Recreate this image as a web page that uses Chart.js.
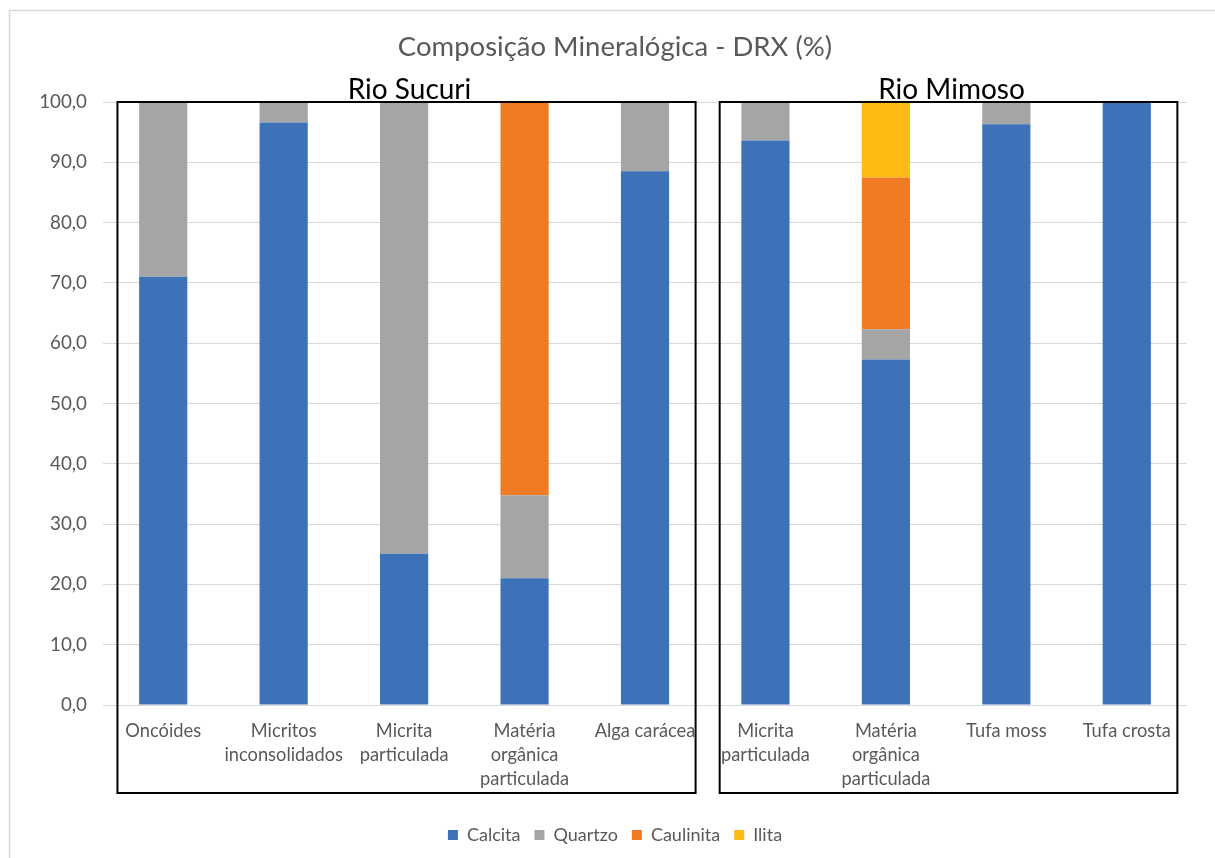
<!DOCTYPE html>
<html>
<head>
<meta charset="utf-8">
<title>Composição Mineralógica - DRX (%)</title>
<script src="https://cdn.jsdelivr.net/npm/chart.js@4.4.1/dist/chart.umd.min.js"></script>
<style>
  html, body { margin: 0; padding: 0; background: #ffffff; }
  #wrap { width: 1215px; height: 858px; position: relative; }
</style>
</head>
<body>
<div id="wrap"><canvas id="chart" width="1215" height="858"></canvas></div>
<script>
// Amostras (categorias do eixo X), em linhas para quebra do rótulo
const categories = [
  ['Oncóides'],
  ['Micritos', 'inconsolidados'],
  ['Micrita', 'particulada'],
  ['Matéria', 'orgânica', 'particulada'],
  ['Alga carácea'],
  ['Micrita', 'particulada'],
  ['Matéria', 'orgânica', 'particulada'],
  ['Tufa moss'],
  ['Tufa crosta']
];

// Composição mineralógica (%) por amostra
const calcita   = [71.0, 96.6, 25.1, 21.0, 88.5, 93.6, 57.3, 96.3, 100.0];
const quartzo   = [29.0,  3.4, 74.9, 13.8, 11.5,  6.4,  5.0,  3.7,   0.0];
const caulinita = [ 0.0,  0.0,  0.0, 65.2,  0.0,  0.0, 25.2,  0.0,   0.0];
const ilita     = [ 0.0,  0.0,  0.0,  0.0,  0.0,  0.0, 12.5,  0.0,   0.0];

// Agrupamento das amostras por rio (índices das categorias)
const groupNames = ['Rio Sucuri', 'Rio Mimoso'];
const groupFirst = [0, 5];
const groupLast  = [4, 8];

// Eixo Y
const yTicks = [0, 10, 20, 30, 40, 50, 60, 70, 80, 90, 100];

const FONT = 'Lato, "Open Sans", sans-serif';
const TEXT_GRAY = '#595959';

const fmt = v => v.toFixed(1).replace('.', ',');

// Moldura externa da área do gráfico
const framePlugin = {
  id: 'frame',
  beforeDraw(chart) {
    const ctx = chart.ctx;
    ctx.save();
    ctx.fillStyle = '#ffffff';
    ctx.fillRect(0, 0, chart.width, chart.height);
    ctx.strokeStyle = '#d9d9d9';
    ctx.lineWidth = 1.5;
    ctx.strokeRect(9.5, 10.5, chart.width + 20, chart.height + 20);
    ctx.restore();
  }
};

// Caixas e títulos dos grupos (rios)
const groupPlugin = {
  id: 'groups',
  afterDraw(chart) {
    const ctx = chart.ctx;
    const x = chart.scales.x;
    const area = chart.chartArea;
    const step = x.getPixelForValue(1) - x.getPixelForValue(0);
    ctx.save();
    for (let g = 0; g < groupNames.length; g++) {
      const left = x.getPixelForValue(groupFirst[g]) - 0.38 * step;
      const right = x.getPixelForValue(groupLast[g]) + 0.42 * step;
      const top = area.top;
      const bottom = area.bottom + 88;
      ctx.strokeStyle = '#000000';
      ctx.lineWidth = 2;
      ctx.strokeRect(left, top, right - left, bottom - top);
      ctx.fillStyle = '#000000';
      ctx.font = '28px ' + FONT;
      ctx.textAlign = 'center';
      ctx.textBaseline = 'alphabetic';
      ctx.fillText(groupNames[g], (left + right) / 2 + 3, top - 3);
    }
    ctx.restore();
  }
};

new Chart(document.getElementById('chart'), {
  type: 'bar',
  data: {
    labels: categories,
    datasets: [
      { label: 'Calcita',   data: calcita,   backgroundColor: '#3d72b9' },
      { label: 'Quartzo',   data: quartzo,   backgroundColor: '#a5a5a5' },
      { label: 'Caulinita', data: caulinita, backgroundColor: '#f17b24' },
      { label: 'Ilita',     data: ilita,     backgroundColor: '#fdbb13' }
    ]
  },
  options: {
    responsive: false,
    animation: false,
    devicePixelRatio: 1,
    layout: { padding: { top: 0, left: 15, right: 0, bottom: 4 } },
    datasets: {
      bar: { barPercentage: 0.4, categoryPercentage: 1.0, borderWidth: 0 }
    },
    plugins: {
      title: {
        display: true,
        text: 'Composição Mineralógica - DRX (%)',
        color: TEXT_GRAY,
        font: { family: FONT, size: 27.5, weight: 'normal', lineHeight: 1.2 },
        padding: { top: 30.5, bottom: 38.5 }
      },
      legend: {
        display: true,
        position: 'bottom',
        labels: {
          color: TEXT_GRAY,
          font: { family: FONT, size: 18 },
          boxWidth: 10,
          boxHeight: 10,
          padding: 14
        }
      },
      tooltip: { enabled: false }
    },
    scales: {
      x: {
        stacked: true,
        grid: { display: false, drawTicks: false },
        border: { display: false },
        ticks: {
          color: TEXT_GRAY,
          font: { family: FONT, size: 18.3, lineHeight: 1.31 },
          padding: 14,
          autoSkip: false,
          maxRotation: 0,
          minRotation: 0
        },
        afterFit(scale) { scale.height = 107; }
      },
      y: {
        stacked: true,
        min: yTicks[0],
        max: yTicks[yTicks.length - 1],
        afterBuildTicks(scale) { scale.ticks = yTicks.map(v => ({ value: v })); },
        grid: { color: '#d9d9d9', lineWidth: 1, drawTicks: false },
        border: { display: false },
        ticks: {
          color: TEXT_GRAY,
          font: { family: FONT, size: 18.8 },
          padding: 16,
          callback: v => fmt(v)
        },
        afterFit(scale) { scale.width = 88; }
      },
      // margem direita reservada (sem marcas)
      margem: {
        type: 'linear',
        position: 'right',
        display: true,
        grid: { display: false, drawTicks: false },
        border: { display: false },
        ticks: { display: false },
        afterFit(scale) { scale.width = 28; }
      }
    }
  },
  plugins: [framePlugin, groupPlugin]
});
</script>
</body>
</html>
